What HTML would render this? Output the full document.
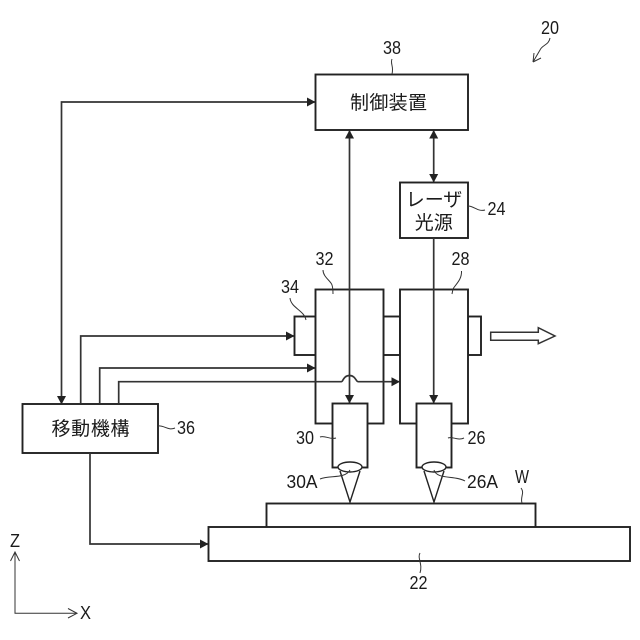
<!DOCTYPE html>
<html><head><meta charset="utf-8"><style>
html,body{margin:0;padding:0;background:#fff}
svg{display:block}
text{font-family:"Liberation Sans","Noto Sans CJK JP",sans-serif;fill:#1a1a1a;text-anchor:middle}
.n{font-size:18px}
.j{font-size:19px}
.b{fill:#fff;stroke:#222;stroke-width:1.9}
.l{fill:none;stroke:#333;stroke-width:1.7}
.t{fill:none;stroke:#333;stroke-width:1}
</style></head><body>
<svg width="640" height="640" viewBox="0 0 640 640" xmlns="http://www.w3.org/2000/svg">
<defs>
<marker id="a" markerUnits="userSpaceOnUse" markerWidth="9" markerHeight="10" refX="8" refY="5" orient="auto-start-reverse"><path d="M0 0.5L8.5 5L0 9.5Z" fill="#222"/></marker>
</defs>

<!-- wafer and stage -->
<rect class="b" x="266.5" y="503.5" width="269" height="24"/>
<rect class="b" x="208.5" y="527" width="421.5" height="34"/>

<!-- bodies -->
<rect class="b" x="294.5" y="316.5" width="21" height="38.5"/>
<rect class="b" x="383.5" y="316.5" width="16.5" height="38.5"/>
<rect class="b" x="468" y="316.5" width="13" height="38.5"/>
<rect class="b" x="315.5" y="289.5" width="68" height="134"/>
<rect class="b" x="400" y="289.5" width="68" height="134"/>

<!-- heads -->
<rect class="b" x="332.5" y="403.5" width="35" height="64"/>
<rect class="b" x="416.5" y="403.5" width="35" height="64"/>

<!-- cones -->
<ellipse cx="350" cy="467" rx="12" ry="5" fill="#fff" stroke="#222" stroke-width="1.4"/>
<ellipse cx="434" cy="467" rx="12" ry="5" fill="#fff" stroke="#222" stroke-width="1.4"/>
<path d="M340 471L350 502L360 471M424 471L434 502L444 471" fill="none" stroke="#222" stroke-width="1.4"/>

<!-- blocks -->
<rect class="b" x="315.5" y="74.5" width="152.5" height="55.5"/>
<rect class="b" x="400" y="182.5" width="68" height="55.5"/>
<rect class="b" x="22.5" y="404" width="135.5" height="49"/>

<!-- connectors -->
<path class="l" d="M61.5 404V102H315" marker-start="url(#a)" marker-end="url(#a)"/>
<path class="l" d="M349.5 130.5V403" marker-start="url(#a)" marker-end="url(#a)"/>
<path class="l" d="M433.7 130.5V182" marker-start="url(#a)" marker-end="url(#a)"/>
<path class="l" d="M433.7 238V403" marker-end="url(#a)"/>
<path class="l" d="M80.7 403V336H294" marker-end="url(#a)"/>
<path class="l" d="M99.7 403V368H315" marker-end="url(#a)"/>
<path class="l" d="M118.7 403V381.7H341.5C343 381.7 343.5 375.5 349.5 375.5C355.5 375.5 356 381.7 358 381.7H399.5" marker-end="url(#a)"/>
<path class="l" d="M90 453V544H208" marker-end="url(#a)"/>

<!-- hollow arrow -->
<path d="M490.7 332.3H538.3V327.7L555 336L538.3 343.7V340.3H490.7Z" fill="#fff" stroke="#333" stroke-width="1.5"/>

<!-- axes -->
<path class="t" d="M15 553V613.3H77" stroke-width="1.3"/>
<path class="t" d="M10.5 561L15 552L19.5 561M68 608.5L77 613.3L68 618" stroke-width="1.3"/>

<!-- leaders -->
<path class="t" d="M392 59C390 64 394 66 392 74"/>
<path class="t" d="M550 38C549 45 542 45 540 50L533 62M533 62L534 53M533 62L541 58"/>
<path class="t" d="M468 206C474 206 478 212 485 210"/>
<path class="t" d="M323 270C323 277 331 281 332 285C333 288 333 290 333 294"/>
<path class="t" d="M461.5 271C462 280 455 285 453 289L452 294"/>
<path class="t" d="M290 298C291 308 304 310 306 320"/>
<path class="t" d="M158 426C164 425 168 431 175 428"/>
<path class="t" d="M320 437C325 435 330 440 336 438"/>
<path class="t" d="M448 438C452 436 458 441 464 438"/>
<path class="t" d="M320 479C330 475 345 479 350 470"/>
<path class="t" d="M434 470C437 480 455 475 465 481"/>
<path class="t" d="M521 488C525 493 520 497 522 503"/>
<path class="t" d="M420 553C417 558 423 564 420 573"/>

<!-- labels -->
<text class="n" x="392" y="54" textLength="18" lengthAdjust="spacingAndGlyphs">38</text>
<text class="n" x="550" y="34" textLength="18" lengthAdjust="spacingAndGlyphs">20</text>
<text class="n" x="496.5" y="215" textLength="18" lengthAdjust="spacingAndGlyphs">24</text>
<text class="n" x="324.5" y="265" textLength="18" lengthAdjust="spacingAndGlyphs">32</text>
<text class="n" x="460.5" y="265" textLength="18" lengthAdjust="spacingAndGlyphs">28</text>
<text class="n" x="290" y="293" textLength="18" lengthAdjust="spacingAndGlyphs">34</text>
<text class="n" x="186" y="434" textLength="18" lengthAdjust="spacingAndGlyphs">36</text>
<text class="n" x="305" y="444" textLength="18" lengthAdjust="spacingAndGlyphs">30</text>
<text class="n" x="476.5" y="444" textLength="18" lengthAdjust="spacingAndGlyphs">26</text>
<text class="n" x="302" y="488" textLength="31" lengthAdjust="spacingAndGlyphs">30A</text>
<text class="n" x="482.5" y="488" textLength="31" lengthAdjust="spacingAndGlyphs">26A</text>
<text class="n" x="522" y="483" textLength="14" lengthAdjust="spacingAndGlyphs">W</text>
<text class="n" x="418.5" y="589" textLength="18" lengthAdjust="spacingAndGlyphs">22</text>
<text class="n" x="15" y="547" textLength="10" lengthAdjust="spacingAndGlyphs">Z</text>
<text class="n" x="85.5" y="619" textLength="11" lengthAdjust="spacingAndGlyphs">X</text>

<text class="j" x="388.5" y="109" textLength="77" lengthAdjust="spacing">制御装置</text>
<text class="j" x="90.5" y="435" textLength="78" lengthAdjust="spacing">移動機構</text>
<text class="j" x="434" y="206">レーザ</text>
<text class="j" x="433.7" y="229">光源</text>
</svg>
</body></html>
